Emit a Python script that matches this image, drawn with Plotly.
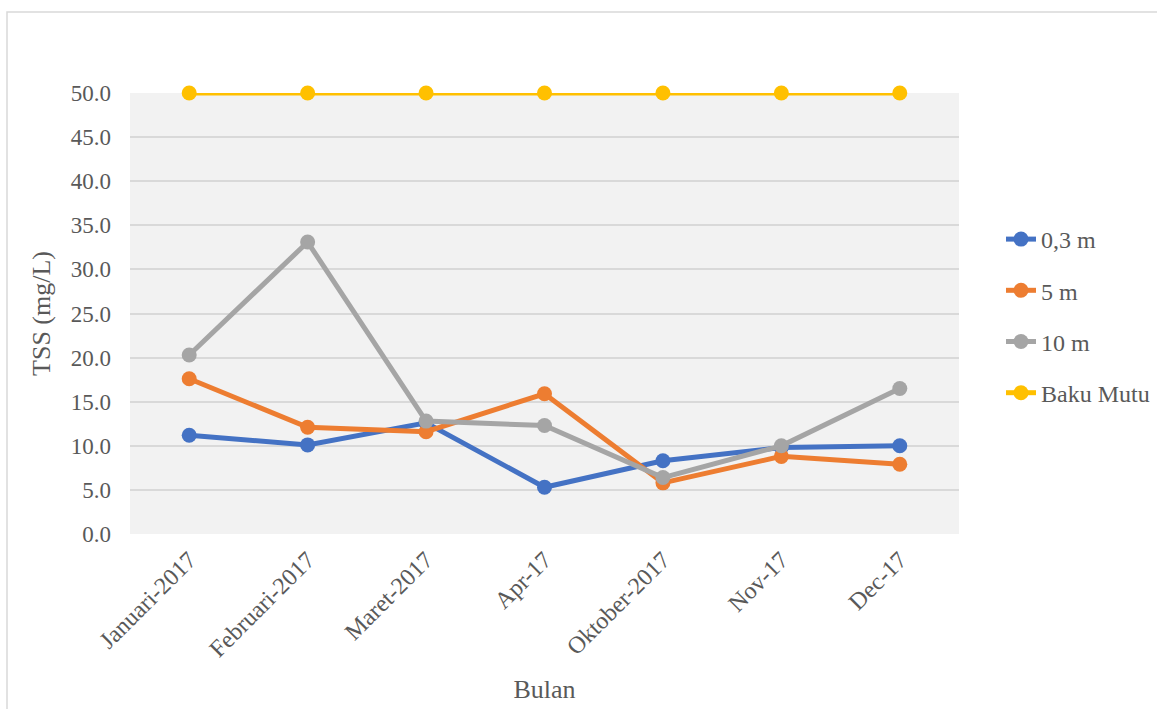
import plotly.graph_objects as go

# Monthly TSS readings at three depths plus the quality standard
bulan = ["Januari-2017", "Februari-2017", "Maret-2017", "Apr-17",
         "Oktober-2017", "Nov-17", "Dec-17"]
tss_03m = [11.2, 10.1, 12.6, 5.3, 8.3, 9.8, 10.0]
tss_5m = [17.6, 12.1, 11.6, 15.9, 5.8, 8.8, 7.9]
tss_10m = [20.3, 33.1, 12.8, 12.3, 6.4, 10.0, 16.5]
baku_mutu = [50.0, 50.0, 50.0, 50.0, 50.0, 50.0, 50.0]

y_ticks = [0, 5, 10, 15, 20, 25, 30, 35, 40, 45, 50]

series = [
    ("0,3 m", tss_03m, "#4472c4"),
    ("5 m", tss_5m, "#ed7d31"),
    ("10 m", tss_10m, "#a5a5a5"),
    ("Baku Mutu", baku_mutu, "#ffc000"),
]

x_pos = list(range(len(bulan)))

fig = go.Figure()
for i, (name, vals, color) in enumerate(series):
    fig.add_trace(go.Scatter(
        x=x_pos, y=vals, name=name, mode="lines+markers",
        line=dict(color=color, width=5),
        marker=dict(color=color, size=15),
        legendgroup=f"g{i}",
        cliponaxis=False,
    ))

W, H = 1157, 709
ml, mr, mt, mb = 130, 198, 93, 175
pw, ph = W - ml - mr, H - mt - mb

def px_x(p):
    return (p - ml) / pw

def px_y(p):
    return 1 - (p - mt) / ph

font_family = "Liberation Serif, Times New Roman, serif"
text_color = "#595959"

# small breaks in the horizontal gridlines between categories
gaps = [
    dict(type="line", xref="x", yref="paper", x0=i + 0.5, x1=i + 0.5, y0=0, y1=1,
         line=dict(color="#f2f2f2", width=2.5), layer="between")
    for i in range(len(bulan) - 1)
]

fig.update_layout(
    width=W, height=H,
    margin=dict(l=ml, r=mr, t=mt, b=mb, autoexpand=False),
    paper_bgcolor="white",
    plot_bgcolor="#f2f2f2",
    font=dict(family=font_family, color=text_color, size=22),
    showlegend=True,
    legend=dict(
        x=px_x(1001), y=px_y(217), xanchor="left", yanchor="top",
        font=dict(size=24, color=text_color, family=font_family),
        tracegroupgap=17, bgcolor="rgba(0,0,0,0)",
        itemwidth=30,
    ),
    xaxis=dict(
        range=[-0.5, len(bulan) - 0.5],
        tickmode="array", tickvals=x_pos, ticktext=bulan,
        tickangle=-45, tickfont=dict(size=24, family=font_family, color=text_color),
        showgrid=False, zeroline=False,
        showline=False, ticks="", ticklabelstandoff=6,
        title=dict(text="Bulan", font=dict(size=26, family=font_family, color=text_color),
                   standoff=18),
        fixedrange=True,
    ),
    yaxis=dict(
        range=[0, 50], tickvals=y_ticks,
        ticktext=[f"{v:.1f}" for v in y_ticks],
        tickfont=dict(size=23, family=font_family, color=text_color),
        showgrid=True, gridcolor="#d9d9d9", gridwidth=2,
        zeroline=False, showline=False, ticks="", ticklabelstandoff=18,
        title=dict(text="TSS (mg/L)", font=dict(size=26, family=font_family, color=text_color),
                   standoff=12),
        fixedrange=True,
    ),
    shapes=[
        dict(type="rect", xref="paper", yref="paper",
             x0=px_x(7), x1=px_x(1200), y0=px_y(12), y1=px_y(760),
             line=dict(color="#d9d9d9", width=1.5), fillcolor="rgba(0,0,0,0)",
             layer="below"),
    ] + gaps,
)

fig.write_html("out.html")
